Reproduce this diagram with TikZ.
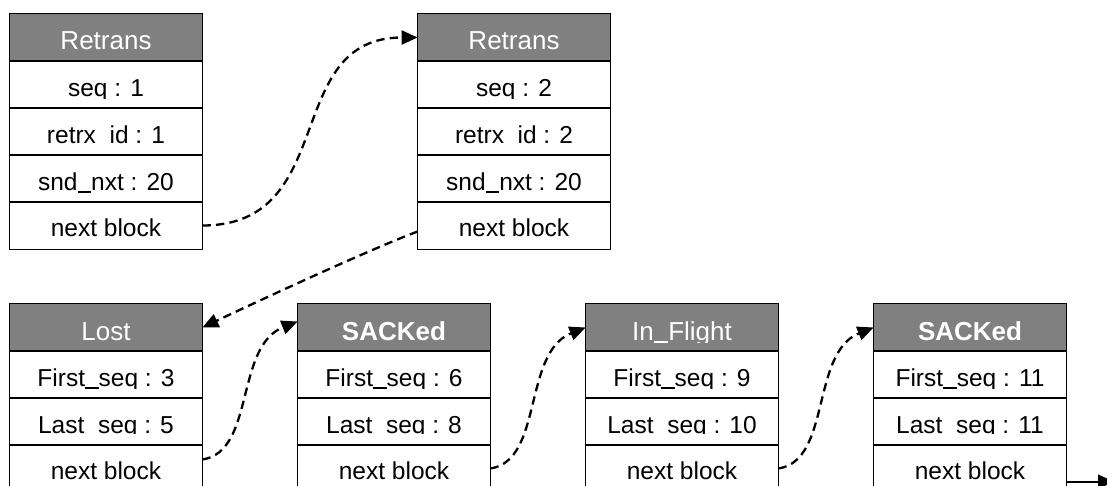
\documentclass[tikz,border=0pt]{standalone}
\usepackage{fontspec}
\setmainfont{Liberation Sans}
\usetikzlibrary{arrows.meta}
\pgfdeclarelayer{background}
\pgfsetlayers{background,main}

% underscore drawn as a thin rule just below the baseline
\newcommand\us{\rule[-0.1em]{0.556em}{0.075em}}

\tikzset{
  cell/.style={inner sep=0pt, minimum width=96pt, minimum height=23.5pt,
    font=\fontsize{12.25pt}{14pt}\selectfont},
  field/.style={cell, text height=12pt, text depth=0pt},
  head/.style={cell, text=white, text height=12.5pt, text depth=0pt,
    font=\fontsize{13pt}{15pt}\selectfont},
  nextfield/.style={cell, text height=10.5pt, text depth=0pt},
  border/.style={line width=0.8pt},
  headfill/.style={fill={rgb,255:red,128;green,128;blue,128}},
  link/.style={line width=1.15pt, dash pattern=on 4.2pt off 2.6pt,
    -{Triangle[length=8pt,width=7pt]}},
  solidlink/.style={line width=1.1pt, -{Triangle[length=8pt,width=7pt]}}
}

% one row of a block: name, left x, top y, style, clip depth, text
\newcommand\boxrow[6]{%
  \begin{scope}
    \clip (#2-5,#3) rectangle (#2+197,#3+#5);
    \node[#4] (#1) at (#2+96,#3+23.5) {#6};
  \end{scope}
  \draw[border] (#1.north west) rectangle (#1.south east);}

% grey title row: name, left x, top y, text
\newcommand\headrow[4]{%
  \boxrow{#1}{#2}{#3}{head}{38}{#4}
  \begin{pgfonlayer}{background}
    \fill[headfill] (#1.north west) rectangle (#1.south east);
  \end{pgfonlayer}}

\begin{document}
\begin{tikzpicture}[x=0.5pt,y=-0.5pt]
\useasboundingbox (0,0) rectangle (1107,486);
\clip (0,0) rectangle (1107,486);

% retransmission blocks
\headrow{r1h}{10}{14}{Retrans}
\boxrow{r1a}{10}{61}{field}{37.5}{seq : 1}
\boxrow{r1b}{10}{108}{field}{35.4}{retrx\us id : 1}
\boxrow{r1c}{10}{155}{field}{37.5}{snd\us nxt : 20}
\boxrow{r1n}{10}{202}{nextfield}{47}{next block}

\headrow{r2h}{418}{14}{Retrans}
\boxrow{r2a}{418}{61}{field}{37.5}{seq : 2}
\boxrow{r2b}{418}{108}{field}{35.4}{retrx\us id : 2}
\boxrow{r2c}{418}{155}{field}{37.5}{snd\us nxt : 20}
\boxrow{r2n}{418}{202}{nextfield}{47}{next block}

% sequence range blocks
\headrow{l1h}{10}{304}{Lost}
\boxrow{l1a}{10}{351}{field}{37.5}{First\us seq : 3}
\boxrow{l1b}{10}{398}{field}{35.4}{Last\us seq : 5}
\boxrow{l1n}{10}{445}{nextfield}{47}{next block}

\headrow{l2h}{298}{304}{\bfseries SACKed}
\boxrow{l2a}{298}{351}{field}{37.5}{First\us seq : 6}
\boxrow{l2b}{298}{398}{field}{35.4}{Last\us seq : 8}
\boxrow{l2n}{298}{445}{nextfield}{47}{next block}

\headrow{l3h}{586}{304}{In\us Flight}
\boxrow{l3a}{586}{351}{field}{37.5}{First\us seq : 9}
\boxrow{l3b}{586}{398}{field}{35.4}{Last\us seq : 10}
\boxrow{l3n}{586}{445}{nextfield}{47}{next block}

\headrow{l4h}{874}{304}{\bfseries SACKed}
\boxrow{l4a}{874}{351}{field}{37.5}{First\us seq : 11}
\boxrow{l4b}{874}{398}{field}{35.4}{Last\us seq : 11}
\boxrow{l4n}{874}{445}{nextfield}{47}{next block}

% next-block pointers
\draw[link] (r1n.east) .. controls +(138,0) and +(-137,0) .. (r2h.west);
\draw[link] ([yshift=-3pt]r2n.west) .. controls +(-48,18) and +(57,-27) .. (l1h.east);
\draw[link] ([yshift=4.5pt]l1n.east) .. controls +(53,-8) and +(-63,25) .. ([yshift=3pt]l2h.west);
\draw[link] (l2n.east) .. controls +(53,-8) and +(-63,25) .. (l3h.west);
\draw[link] (l3n.east) .. controls +(53,-8) and +(-63,25) .. (l4h.west);

\coordinate (tail) at (1114,481.7);
\draw[solidlink] (l4n.east |- tail) -- (tail);
\end{tikzpicture}
\end{document}
